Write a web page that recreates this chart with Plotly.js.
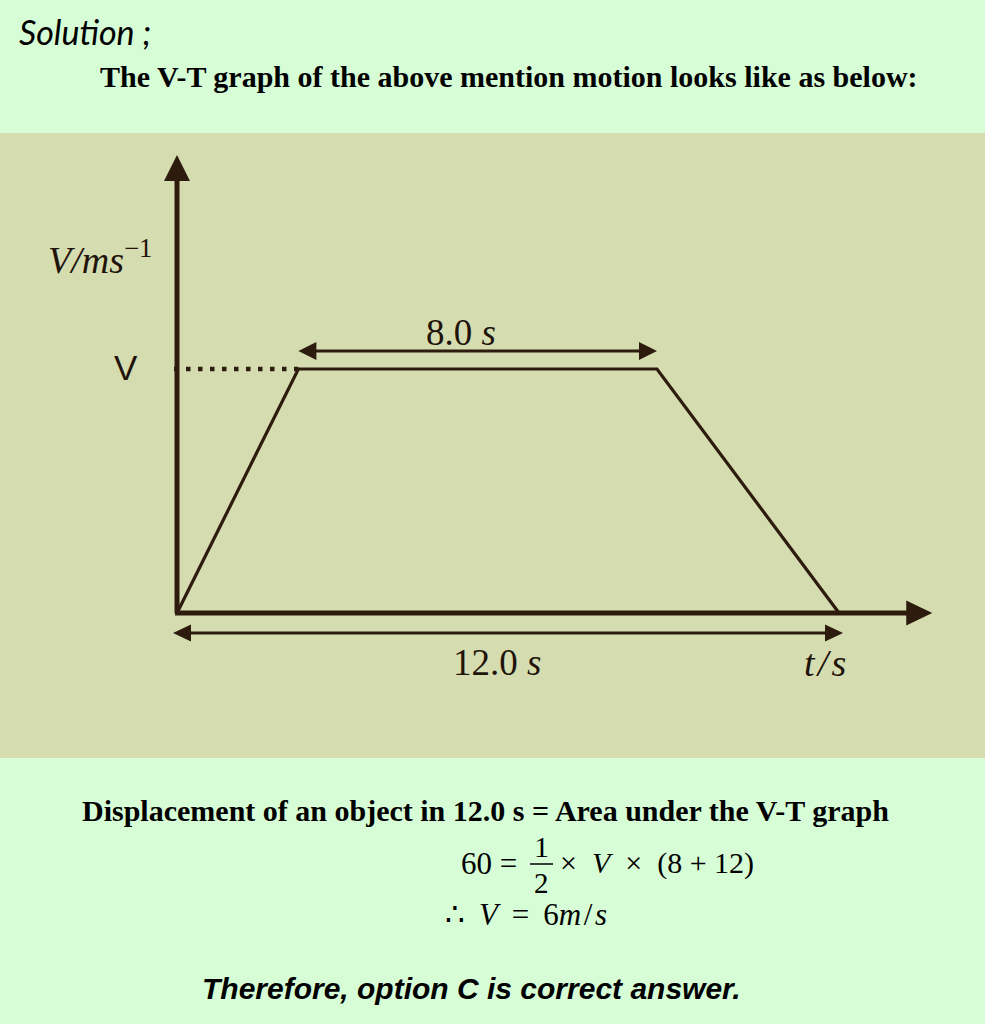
<!DOCTYPE html>
<html>
<head>
<meta charset="utf-8">
<script src="https://cdn.plot.ly/plotly-3.0.1.min.js"></script>
<style>html,body{margin:0;padding:0;background:#d6fdd6;overflow:hidden}</style>
</head>
<body>
<div id="chart" style="width:985px;height:1024px"></div>
<script>
// ---------- data ----------
const timeS = [0, 2.2, 8.7, 12];          // corners of the V-T trapezoid as drawn (s)
const velocity = [0, 6, 6, 0];            // m/s  (V = 6)
const levelLabel = 'V';
const flatTimeLabel = '8.0';
const totalTimeLabel = '12.0';
const axisEndT = 13.69;                   // tip of the time axis arrow
const axisEndV = 11.26;                   // tip of the velocity axis arrow
const titleText = 'The V-T graph of the above mention motion looks like as below:';
const headingText = 'Solution ;';
const displacementText = 'Displacement of an object in 12.0 s = Area under the V-T graph';
const conclusionText = 'Therefore, option C is correct answer.';

// ---------- geometry helpers ----------
const W = 985, H = 1024;
const X_RANGE = [-3.2085, 14.646];
const Y_RANGE = [-10.107, 15.074];
const sx = W / (X_RANGE[1] - X_RANGE[0]);
const sy = H / (Y_RANGE[1] - Y_RANGE[0]);
const dx = p => p / sx, dy = p => p / sy;
const PX = p => p / W, PY = p => 1 - p / H;

const DARK = '#2d1b0e';
const TXT = '#1f130a';
const PANEL = '#d4dcb0';
const BG = '#d6fdd6';

function head(xt, yt, dir, len, half) {
  let pts;
  if (dir === 'up') pts = [[xt - dx(half), yt - dy(len)], [xt, yt], [xt + dx(half), yt - dy(len)]];
  else if (dir === 'right') pts = [[xt - dx(len), yt + dy(half)], [xt, yt], [xt - dx(len), yt - dy(half)]];
  else pts = [[xt + dx(len), yt + dy(half)], [xt, yt], [xt + dx(len), yt - dy(half)]];
  return {type: 'path', xref: 'x', yref: 'y', layer: 'above',
    path: 'M ' + pts.map(p => p[0] + ',' + p[1]).join(' L ') + ' Z',
    fillcolor: DARK, line: {width: 0}};
}
function seg(x0, y0, x1, y1, w, color) {
  return {type: 'line', xref: 'x', yref: 'y', x0, y0, x1, y1, layer: 'above',
    line: {color: color || DARK, width: w}};
}

const vLevel = velocity[1];
const tStart = timeS[0], tEnd = timeS[timeS.length - 1];
const tFlat0 = timeS[1], tFlat1 = timeS[2];

const shapes = [
  // khaki panel
  {type: 'rect', xref: 'paper', yref: 'paper', x0: 0, x1: 1, y0: PY(758), y1: PY(133),
   fillcolor: PANEL, line: {width: 0}, layer: 'below'},
  // velocity axis
  seg(tStart, 0, tStart, axisEndV - dy(20), 5),
  head(tStart, axisEndV, 'up', 26, 13),
  // time axis
  seg(tStart - dx(2), 0, axisEndT - dx(20), 0, 5),
  head(axisEndT, 0, 'right', 26, 12.5),
  // 8.0 s double arrow
  seg(tFlat0 + dx(10), vLevel + dy(18), tFlat1 - dx(10), vLevel + dy(18), 3),
  head(tFlat0, vLevel + dy(18), 'left', 18, 9),
  head(tFlat1, vLevel + dy(18), 'right', 18, 9),
  // 12.0 s double arrow
  seg(tStart - dx(4) + dx(10), -dy(20), tEnd + dx(4) - dx(10), -dy(20), 3),
  head(tStart - dx(4), -dy(20), 'left', 18, 8.5),
  head(tEnd + dx(4), -dy(20), 'right', 18, 8.5),
  // fraction bar
  {type: 'line', xref: 'paper', yref: 'paper', x0: PX(530), x1: PX(553), y0: PY(864), y1: PY(864),
   line: {color: '#000', width: 1.5}}
];

const traces = [
  {x: [tStart - dx(3), tFlat0], y: [vLevel, vLevel], mode: 'lines', hoverinfo: 'skip',
   line: {color: DARK, width: 4.5, dash: '4.5px,7.5px'}},
  {x: timeS, y: velocity, mode: 'lines', hoverinfo: 'skip',
   line: {color: DARK, width: 3.2}}
];

const serif = 'Liberation Serif, Times New Roman, serif';
function ann(text, x, y, opts) {
  return Object.assign({text, x: PX(x), y: PY(y), xref: 'paper', yref: 'paper',
    showarrow: false, xanchor: 'center', yanchor: 'middle',
    font: {family: serif, size: 37, color: TXT}}, opts || {});
}
const HS = '\u200A', TS = '\u2009';

const annotations = [
  ann('<i>' + headingText + '</i>', 17, 31, {xanchor: 'left',
    font: {family: 'Lato, Noto Sans, sans-serif', size: 34, color: '#000'}}),
  ann('<b>' + titleText + '</b>', 509, 76, {font: {family: serif, size: 30, color: '#000'}}),
  ann('<i>V</i><i>/</i><i>ms</i><sup>−1</sup>', 46, 257, {xanchor: 'left', font: {family: serif, size: 38, color: TXT}}),
  ann(levelLabel, 126, 367, {font: {family: 'Liberation Sans, Arial, sans-serif', size: 35, color: TXT}}),
  ann(flatTimeLabel + ' <i>s</i>', 461, 332),
  ann(totalTimeLabel + ' <i>s</i>', 497, 662),
  ann('<i>t</i>' + HS + '<i>/</i>' + HS + '<i>s</i>', 825, 663, {font: {family: serif, size: 38, color: TXT}}),
  ann('<b>' + displacementText + '</b>', 485, 810, {font: {family: serif, size: 30, color: '#000'}}),
  ann('60 =', 519, 863, {xanchor: 'right', font: {family: serif, size: 31, color: '#000'}}),
  ann('1', 541, 846, {font: {family: serif, size: 30, color: '#000'}}),
  ann('2', 541, 883, {font: {family: serif, size: 29, color: '#000'}}),
  ann('×  <i>V</i>  ×  (8 + 12)', 558, 863, {xanchor: 'left', font: {family: serif, size: 30, color: '#000'}}),
  ann('∴ ' + TS + '<i>V</i> ' + TS + '= ' + TS + '6<i>m</i>' + HS + '/' + HS + '<i>s</i>', 443, 914,
    {xanchor: 'left', font: {family: serif, size: 31, color: '#000'}}),
  ann('<b><i>' + conclusionText + '</i></b>', 471, 988,
    {font: {family: 'Liberation Sans, Arial, sans-serif', size: 30, color: '#000'}})
];

const layout = {
  width: W, height: H,
  margin: {l: 0, r: 0, t: 0, b: 0, pad: 0},
  paper_bgcolor: BG, plot_bgcolor: 'rgba(0,0,0,0)',
  xaxis: {range: X_RANGE, visible: false, fixedrange: true},
  yaxis: {range: Y_RANGE, visible: false, fixedrange: true},
  showlegend: false, shapes, annotations
};
Plotly.newPlot('chart', traces, layout, {staticPlot: true, displayModeBar: false});
</script>
</body>
</html>
